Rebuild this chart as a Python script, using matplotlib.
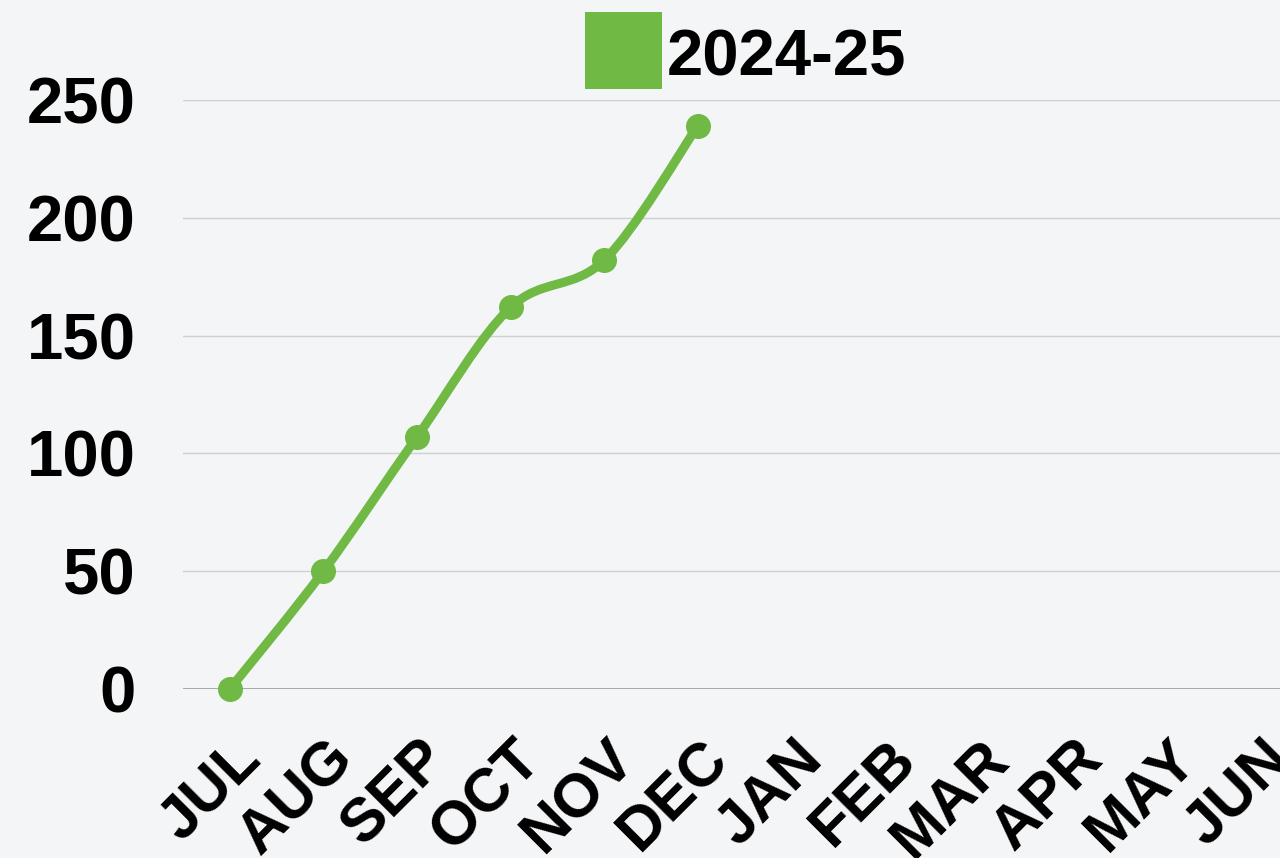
import matplotlib.pyplot as plt
import matplotlib.transforms as mtransforms
from matplotlib.path import Path
from matplotlib.patches import PathPatch, Rectangle
import numpy as np

months = ['JUL', 'AUG', 'SEP', 'OCT', 'NOV', 'DEC', 'JAN', 'FEB', 'MAR', 'APR', 'MAY', 'JUN']
values_2024 = [0, 50, 107, 162, 182, 239]
yticks = [0, 50, 100, 150, 200, 250]
series_name = '2024-25'

green = '#70b944'
bg = '#f4f5f7'
W, H = 1280, 858

fig = plt.figure(figsize=(12.8, 8.58), dpi=100)
fig.patch.set_facecolor(bg)
# plot area: left edge 183px, 12 bands of ~93.6px (runs past the right edge)
ax = fig.add_axes([183 / W, 1 - 689 / H, 12 * 93.6 / W, (689 - 100) / H])
ax.set_facecolor('none')
ax.set_xlim(-0.5, 11.5)
ax.set_ylim(0, 250)

for s in ax.spines.values():
    s.set_visible(False)
for v in yticks:
    ax.axhline(v, color='#9a9a9a' if v == 0 else '#cfd0d2', lw=1.2 if v == 0 else 1.0, zorder=1)

# smooth curve through the points (catmull-rom -> cubic bezier)
xs = np.arange(len(values_2024), dtype=float)
ys = np.array(values_2024, dtype=float)
pts = np.column_stack([xs, ys])
t = 0.5
verts = [tuple(pts[0])]
codes = [Path.MOVETO]
for i in range(len(pts) - 1):
    p0 = pts[i - 1] if i > 0 else pts[i]
    p1 = pts[i]
    p2 = pts[i + 1]
    p3 = pts[i + 2] if i + 2 < len(pts) else pts[i + 1]
    c1 = p1 + (p2 - p0) * t / 3
    c2 = p2 - (p3 - p1) * t / 3
    verts += [tuple(c1), tuple(c2), tuple(p2)]
    codes += [Path.CURVE4] * 3
ax.add_patch(PathPatch(Path(verts, codes), fill=False, edgecolor=green, lw=6.5,
                       capstyle='round', joinstyle='round', zorder=3, clip_on=False))
ax.plot(xs, ys, 'o', color=green, ms=17, mec=green, zorder=4, clip_on=False)

ax.set_yticks(yticks)
ax.set_yticklabels([str(v) for v in yticks], fontsize=47, fontweight='bold',
                   fontfamily='Liberation Sans')
ax.tick_params(axis='y', length=0, pad=34)
ax.set_xticks(range(len(months)))
ax.set_xticklabels(months, fontsize=44, fontweight='bold', fontfamily='Liberation Sans',
                   rotation=45, ha='right', va='center', rotation_mode='anchor')
ax.tick_params(axis='x', length=0, pad=44)
shift = mtransforms.ScaledTranslation(22 / 100, 0, fig.dpi_scale_trans)
for lab in ax.get_xticklabels():
    lab.set_transform(lab.get_transform() + shift)

# legend
fig.patches.append(Rectangle((585 / W, 1 - 89 / H), 77 / W, 77 / H, transform=fig.transFigure,
                             facecolor=green, edgecolor='none'))
fig.text(667 / W, 1 - 75 / H, series_name, fontsize=47, fontweight='bold',
         fontfamily='Liberation Sans', ha='left', va='baseline')

fig.savefig('out.png', dpi=100, facecolor=bg)
